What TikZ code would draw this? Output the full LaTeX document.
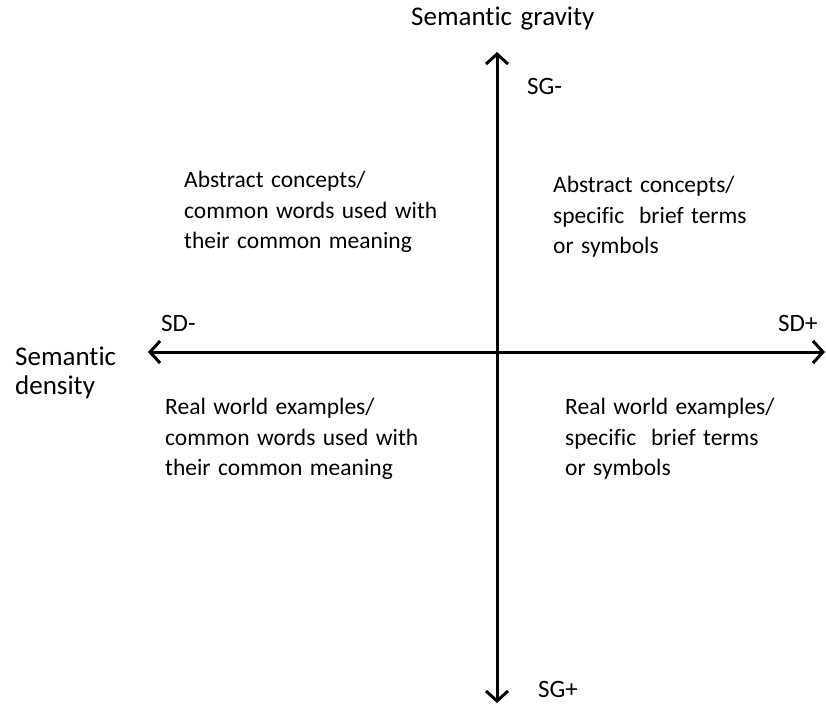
\documentclass[tikz,border=0pt]{standalone}
\usepackage{fontspec}
\setmainfont{Carlito}[Ligatures=NoCommon,WordSpace=1.4]
\usetikzlibrary{arrows.meta}
\begin{document}
\begin{tikzpicture}[x=1pt,y=-1pt,
  axis/.style={line width=3pt,
    {Straight Barb[length=10pt,width=22pt,line width=3pt]}-{Straight Barb[length=10pt,width=22pt,line width=3pt]}},
  lbl/.style={inner sep=0pt,anchor=base west,font=\fontsize{25}{30}\selectfont},
  ttl/.style={inner sep=0pt,font=\fontsize{27}{29}\selectfont},
  quad/.style={inner sep=0pt,align=left,anchor=north west,font=\fontsize{23.5}{30.5}\selectfont}]
\useasboundingbox (0,0) rectangle (826,706);
% axes
\coordinate (top) at (497,52);
\coordinate (bottom) at (497,703);
\coordinate (left) at (148,352);
\coordinate (right) at (825,352);
\draw[axis] (bottom) -- (top);
\draw[axis] (left) -- (right);
% axis titles and pole labels
\node[ttl,anchor=base west] (sg) at (411,26) {Semantic gravity};
\node[lbl] (sgminus) at (527,95) {SG-};
\node[lbl] (sgplus) at (538,697) {SG+};
\node[lbl] (sdminus) at (161,331) {SD-};
\node[lbl] (sdplus) at (778,331) {SD+};
\node[ttl,align=left,anchor=north west] (sd) at (15,347) {Semantic\\density};
% quadrant descriptions
\node[quad] (tl) at (184,171) {Abstract concepts/\\common words used with\\their common meaning};
\node[quad] (tr) at (553,176) {Abstract concepts/\\specific\ \ brief terms\\or symbols};
\node[quad] (bl) at (165,398) {Real world examples/\\common words used with\\their common meaning};
\node[quad] (br) at (565,398) {Real world examples/\\specific\ \ brief terms\\or symbols};
\end{tikzpicture}
\end{document}
